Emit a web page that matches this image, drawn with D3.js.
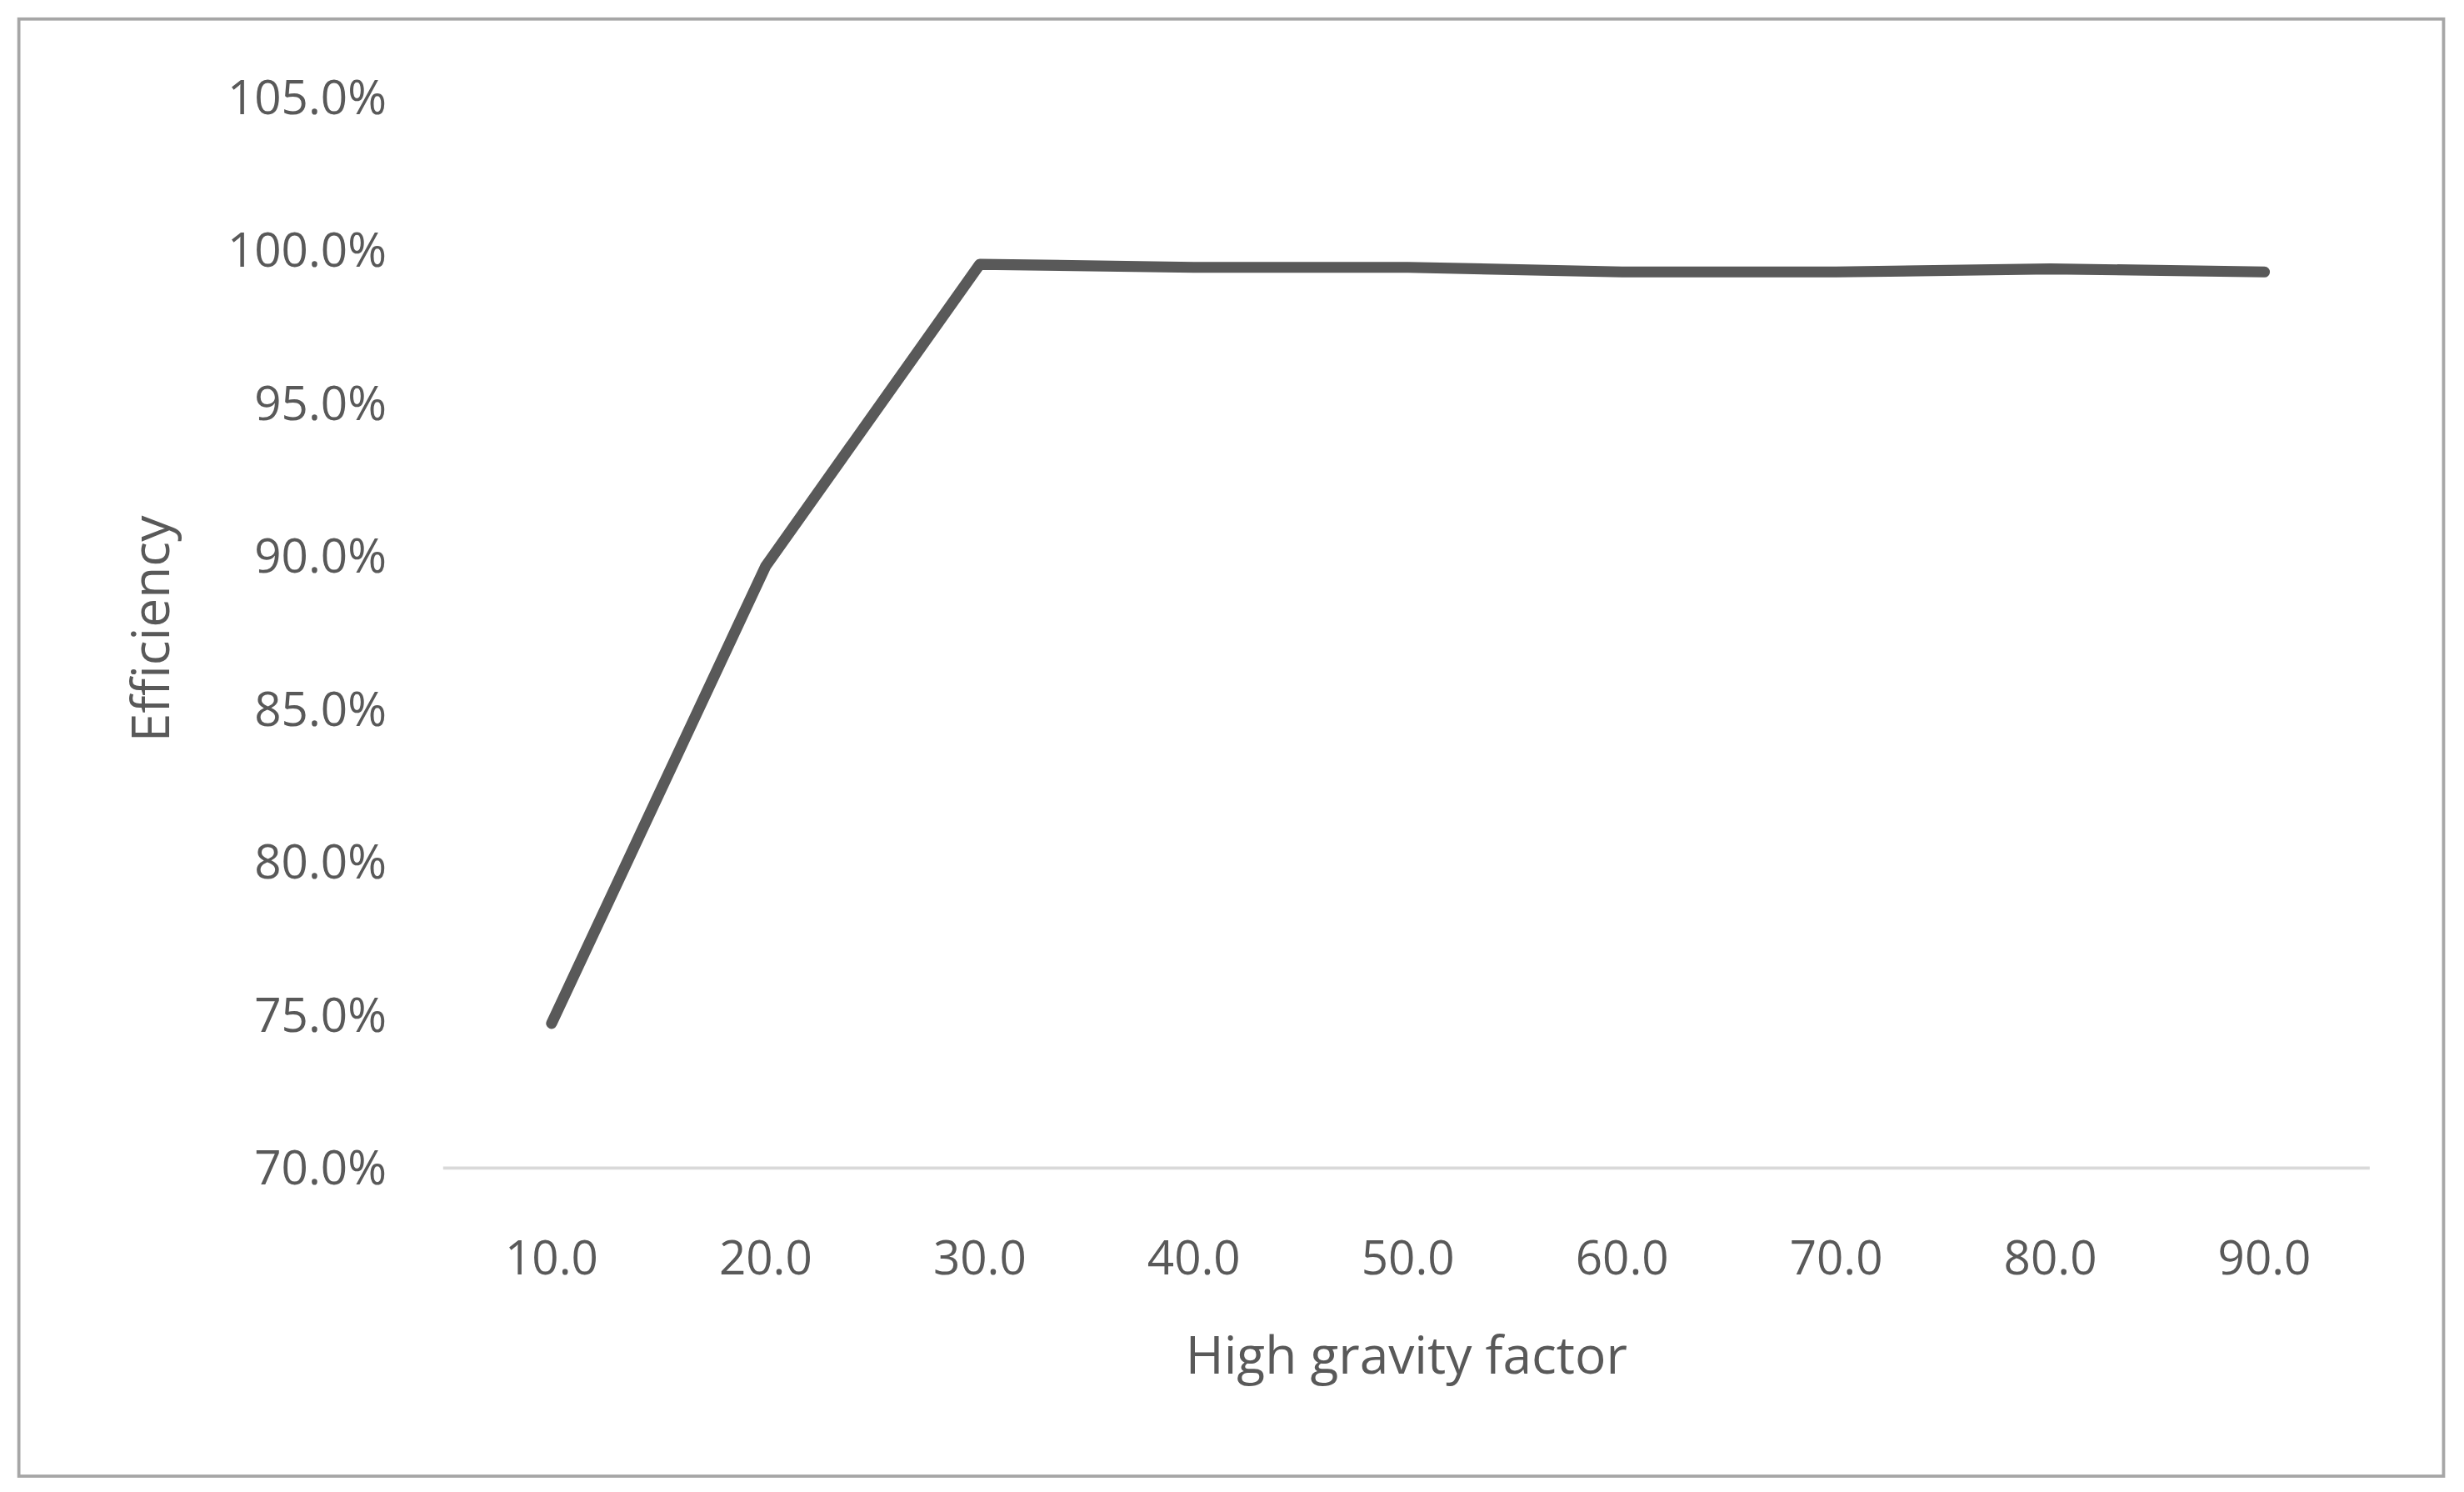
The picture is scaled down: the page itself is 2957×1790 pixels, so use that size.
<!DOCTYPE html>
<html>
<head>
<meta charset="utf-8">
<script src="https://cdn.jsdelivr.net/npm/d3@7"></script>
<style>
  body { margin: 0; background: #fff; }
  text { font-family: "Open Sans", "Liberation Sans", sans-serif; fill: #595959; }
</style>
</head>
<body>
<div id="chart"></div>
<script>
// chart data
var factors = [10, 20, 30, 40, 50, 60, 70, 80, 90];
var efficiency = [0.7473, 0.8968, 0.9955, 0.9945, 0.9945, 0.9930, 0.9930, 0.9940, 0.9930];
var yTicks = [0.70, 0.75, 0.80, 0.85, 0.90, 0.95, 1.00, 1.05];

// drawn in a 1568x949 coordinate space, scaled to the window
var W = 1568, H = 949;
var svg = d3.select("#chart").append("svg")
	.attr("width", 2957)
	.attr("height", 1790)
	.attr("viewBox", "0 0 " + W + " " + H);

svg.append("rect")
	.attr("x", 12).attr("y", 12)
	.attr("width", 1543).attr("height", 927)
	.style("fill", "#fff")
	.style("stroke", "#a6a6a6")
	.style("stroke-width", 2);

var x = d3.scalePoint().domain(factors).range([351, 1441]);
var y = d3.scaleLinear().domain([0.70, 1.05]).range([743, 62]);

// baseline
svg.append("line")
	.attr("x1", 282).attr("x2", 1508)
	.attr("y1", y(0.70)).attr("y2", y(0.70))
	.style("stroke", "#d9d9d9")
	.style("stroke-width", 2);

// y tick labels
svg.selectAll(".ytick")
	.data(yTicks)
	.enter().append("text")
	.attr("class", "ytick")
	.attr("x", 246)
	.attr("y", function(d) { return y(d); })
	.attr("dy", "0.35em")
	.attr("text-anchor", "end")
	.style("font-size", "30px")
	.text(function(d) { return (d * 100).toFixed(1) + "%"; });

// x tick labels
svg.selectAll(".xtick")
	.data(factors)
	.enter().append("text")
	.attr("class", "xtick")
	.attr("x", function(d) { return x(d); })
	.attr("y", 800)
	.attr("dy", "0.35em")
	.attr("text-anchor", "middle")
	.style("font-size", "30px")
	.text(function(d) { return d.toFixed(1); });

// axis titles
svg.append("text")
	.attr("x", 895).attr("y", 862)
	.attr("dy", "0.35em")
	.attr("text-anchor", "middle")
	.style("font-size", "33px")
	.text("High gravity factor");

svg.append("text")
	.attr("transform", "translate(96,400) rotate(-90)")
	.attr("dy", "0.35em")
	.attr("text-anchor", "middle")
	.style("font-size", "33px")
	.text("Efficiency");

// series line
var line = d3.line()
	.x(function(d, i) { return x(factors[i]); })
	.y(function(d) { return y(d); });

svg.append("path")
	.datum(efficiency)
	.attr("d", line)
	.style("fill", "none")
	.style("stroke", "#595959")
	.style("stroke-width", 7)
	.style("stroke-linejoin", "round")
	.style("stroke-linecap", "round");
</script>
</body>
</html>
